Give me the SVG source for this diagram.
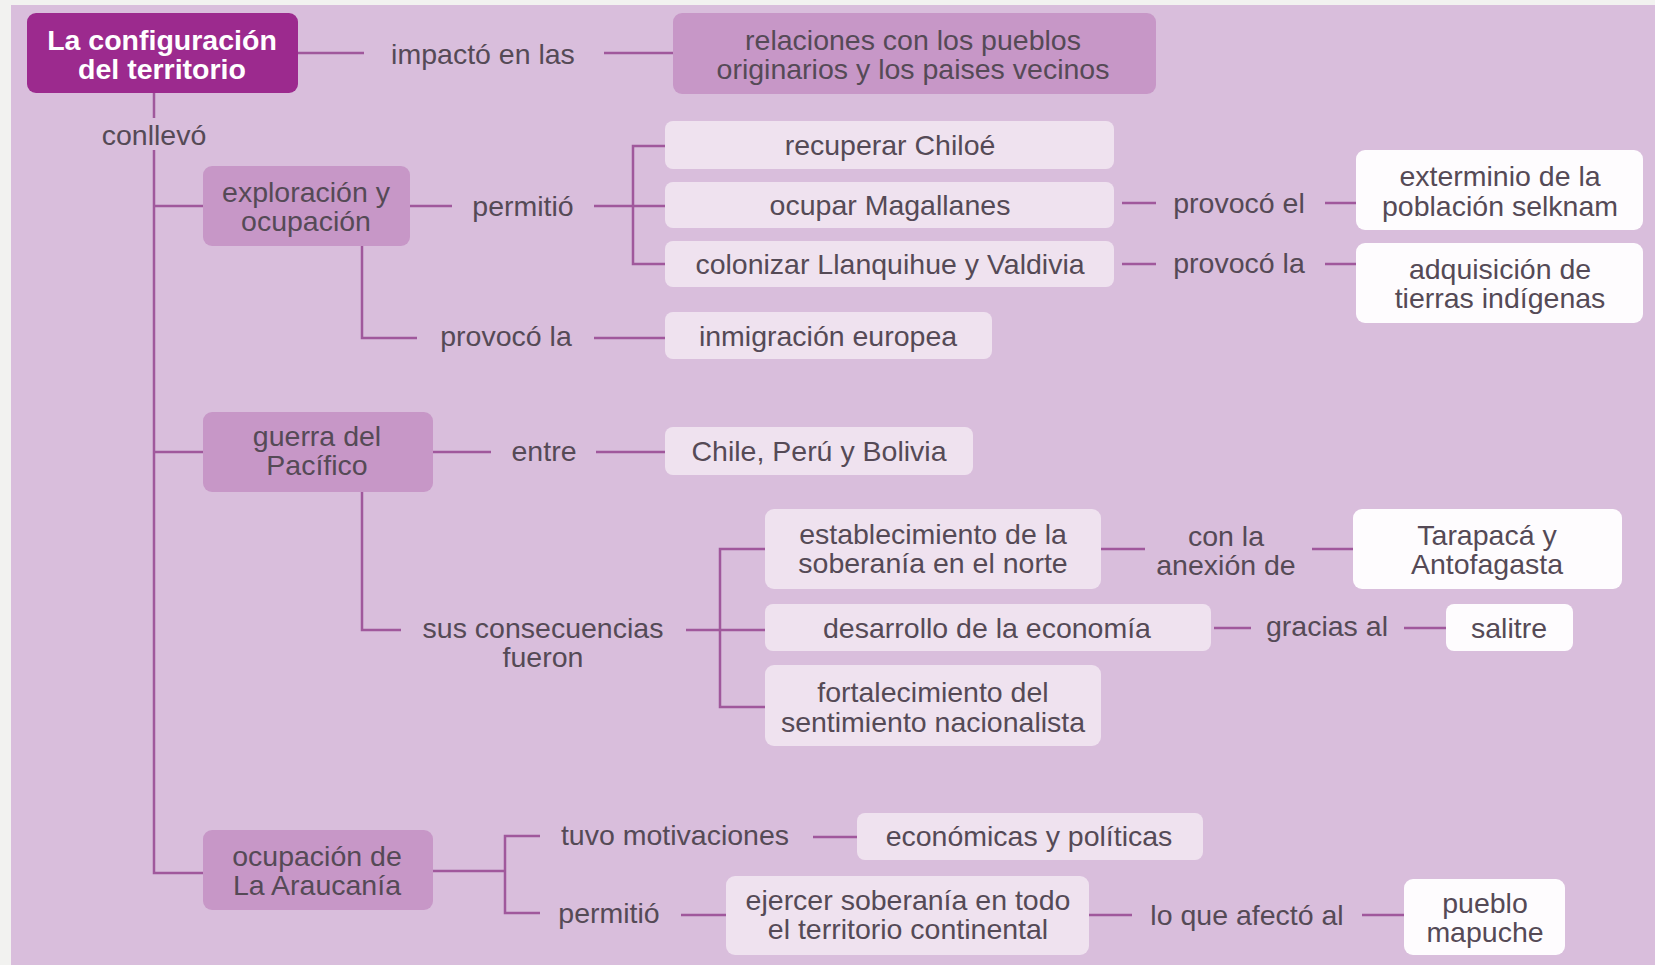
<svg xmlns="http://www.w3.org/2000/svg" width="1655" height="965" viewBox="0 0 1655 965">
<style>
.t{font-family:"Liberation Sans",Arial,sans-serif;font-size:28.5px;fill:#554a56;text-anchor:middle}
.tt{font-family:"Liberation Sans",Arial,sans-serif;font-size:28.5px;font-weight:bold;fill:#ffffff;text-anchor:middle}
.mid{fill:#c797c7}
.lt{fill:#efe2ef}
.wh{fill:#fefcfe}
.ln{fill:none;stroke:#a0589c;stroke-width:2.5}
</style>
<rect x="0" y="0" width="1655" height="965" fill="#f2f2f0"/>
<rect x="11" y="5" width="1644" height="960" fill="#d9bedc"/>
<g id="connectors" class="ln">
<path d="M298 53H364M604 53H673"/>
<path d="M154 93V118M154 150V873H203"/>
<path d="M154 206H203M154 452H203"/>
<path d="M410 206H452M594 206H665M665 146H633V264H665"/>
<path d="M1122 203H1156M1325 203H1356"/>
<path d="M1122 264H1156M1325 264H1356"/>
<path d="M362 246V338H417M594 338H665"/>
<path d="M433 452H491M596 452H665"/>
<path d="M362 492V630H401M686 630H765M765 549H720V707H765"/>
<path d="M1101 549H1145M1312 549H1353"/>
<path d="M1214 628H1251M1404 628H1446"/>
<path d="M433 871H505M540 836H505V913H540"/>
<path d="M813 837H857M681 915H726M1089 915H1132M1362 915H1404"/>
</g>
<g id="labels">
<text class="t" x="483" y="64">impactó en las</text>
<text class="t" x="154" y="145">conllevó</text>
<text class="t" x="523" y="216">permitió</text>
<text class="t" x="1239" y="213">provocó el</text>
<text class="t" x="1239" y="273">provocó la</text>
<text class="t" x="506" y="346">provocó la</text>
<text class="t" x="544" y="461">entre</text>
<text class="t" x="543" y="638">sus consecuencias</text>
<text class="t" x="543" y="667">fueron</text>
<text class="t" x="1226" y="546">con la</text>
<text class="t" x="1226" y="575">anexión de</text>
<text class="t" x="1327" y="636">gracias al</text>
<text class="t" x="675" y="845">tuvo motivaciones</text>
<text class="t" x="609" y="923">permitió</text>
<text class="t" x="1247" y="925">lo que afectó al</text>
</g>
<g id="n_title"><rect x="27" y="13" width="271" height="80" rx="9" fill="#9c2a8e"/><text class="tt" x="162" y="50">La configuración</text><text class="tt" x="162" y="79">del territorio</text></g>
<g id="n_relaciones"><rect class="mid" x="673" y="13" width="483" height="81" rx="9"/><text class="t" x="913" y="50">relaciones con los pueblos</text><text class="t" x="913" y="79">originarios y los paises vecinos</text></g>
<g id="n_exploracion"><rect class="mid" x="203" y="166" width="207" height="80" rx="9"/><text class="t" x="306" y="202">exploración y</text><text class="t" x="306" y="231">ocupación</text></g>
<g id="n_recuperar"><rect class="lt" x="665" y="121" width="449" height="48" rx="8"/><text class="t" x="890" y="155">recuperar Chiloé</text></g>
<g id="n_magallanes"><rect class="lt" x="665" y="182" width="449" height="46" rx="8"/><text class="t" x="890" y="215">ocupar Magallanes</text></g>
<g id="n_colonizar"><rect class="lt" x="665" y="241" width="449" height="46" rx="8"/><text class="t" x="890" y="274">colonizar Llanquihue y Valdivia</text></g>
<g id="n_exterminio"><rect class="wh" x="1356" y="150" width="287" height="80" rx="9"/><text class="t" x="1500" y="186">exterminio de la</text><text class="t" x="1500" y="216">población selknam</text></g>
<g id="n_adquisicion"><rect class="wh" x="1356" y="243" width="287" height="80" rx="9"/><text class="t" x="1500" y="279">adquisición de</text><text class="t" x="1500" y="308">tierras indígenas</text></g>
<g id="n_inmigracion"><rect class="lt" x="665" y="312" width="327" height="47" rx="8"/><text class="t" x="828" y="346">inmigración europea</text></g>
<g id="n_guerra"><rect class="mid" x="203" y="412" width="230" height="80" rx="9"/><text class="t" x="317" y="446">guerra del</text><text class="t" x="317" y="475">Pacífico</text></g>
<g id="n_chile"><rect class="lt" x="665" y="427" width="308" height="48" rx="8"/><text class="t" x="819" y="461">Chile, Perú y Bolivia</text></g>
<g id="n_establecimiento"><rect class="lt" x="765" y="509" width="336" height="80" rx="9"/><text class="t" x="933" y="544">establecimiento de la</text><text class="t" x="933" y="573">soberanía en el norte</text></g>
<g id="n_tarapaca"><rect class="wh" x="1353" y="509" width="269" height="80" rx="9"/><text class="t" x="1487" y="545">Tarapacá y</text><text class="t" x="1487" y="574">Antofagasta</text></g>
<g id="n_desarrollo"><rect class="lt" x="765" y="604" width="446" height="47" rx="8"/><text class="t" x="987" y="638">desarrollo de la economía</text></g>
<g id="n_salitre"><rect class="wh" x="1446" y="604" width="127" height="47" rx="8"/><text class="t" x="1509" y="638">salitre</text></g>
<g id="n_fortalecimiento"><rect class="lt" x="765" y="665" width="336" height="81" rx="9"/><text class="t" x="933" y="702">fortalecimiento del</text><text class="t" x="933" y="732">sentimiento nacionalista</text></g>
<g id="n_araucania"><rect class="mid" x="203" y="830" width="230" height="80" rx="9"/><text class="t" x="317" y="866">ocupación de</text><text class="t" x="317" y="895">La Araucanía</text></g>
<g id="n_economicas"><rect class="lt" x="857" y="813" width="346" height="47" rx="8"/><text class="t" x="1029" y="846">económicas y políticas</text></g>
<g id="n_ejercer"><rect class="lt" x="726" y="876" width="363" height="79" rx="9"/><text class="t" x="908" y="910">ejercer soberanía en todo</text><text class="t" x="908" y="939">el territorio continental</text></g>
<g id="n_pueblo"><rect class="wh" x="1404" y="879" width="161" height="76" rx="9"/><text class="t" x="1485" y="913">pueblo</text><text class="t" x="1485" y="942">mapuche</text></g>
</svg>
